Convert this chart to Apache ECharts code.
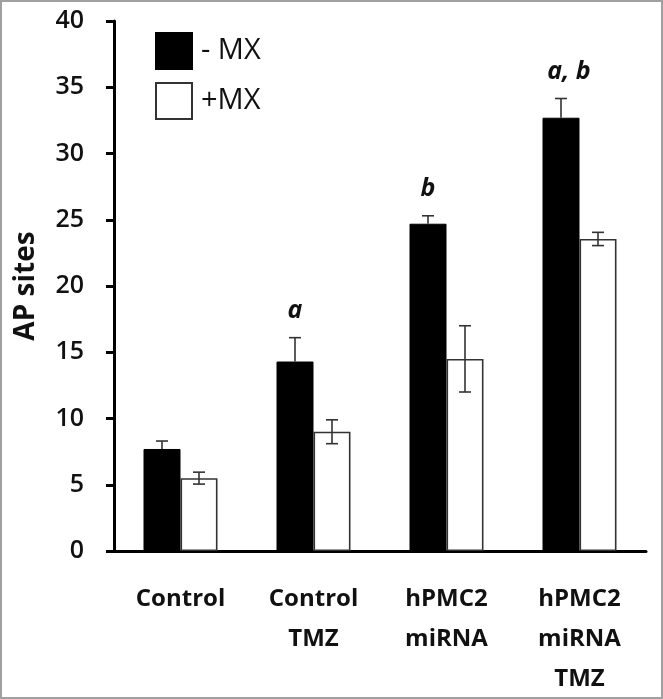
<!DOCTYPE html>
<html>
<head>
<meta charset="utf-8">
<script src="https://cdn.jsdelivr.net/npm/echarts@6/dist/echarts.min.js"></script>
<style>
html,body{margin:0;padding:0;background:#fff;}
#chart{width:663px;height:699px;}
</style>
</head>
<body>
<div id="chart"></div>
<script>
const categories = ['Control', 'Control\nTMZ', 'hPMC2\nmiRNA', 'hPMC2\nmiRNA\nTMZ'];
const minusMX = [7.7, 14.3, 24.7, 32.7];
const minusMXErr = [0.6, 1.8, 0.6, 1.45];
const plusMX = [5.5, 9.0, 14.5, 23.55];
const plusMXErr = [0.45, 0.9, 2.5, 0.5];
const sigLetters = ['', 'a', 'b', 'a, b'];
const yTicks = [0, 5, 10, 15, 20, 25, 30, 35, 40];

const FONT = '"Open Sans", "DejaVu Sans", sans-serif';
const BAR_W = 37;

function errRender(offset, letters, upperOnly) {
  return function (params, api) {
    const idx = api.value(0), mean = api.value(1), err = api.value(2);
    const top = api.coord([idx, mean + err]);
    const mid = api.coord([idx, mean]);
    const bot = api.coord([idx, mean - err]);
    const x = top[0] + offset;
    const style = { stroke: '#333', lineWidth: 1.6 };
    const children = [
      { type: 'line', shape: { x1: x, y1: top[1], x2: x, y2: upperOnly ? mid[1] : bot[1] }, style },
      { type: 'line', shape: { x1: x - 6, y1: top[1], x2: x + 6, y2: top[1] }, style }
    ];
    if (!upperOnly) {
      children.push({ type: 'line', shape: { x1: x - 6, y1: bot[1], x2: x + 6, y2: bot[1] }, style });
    }
    if (letters && letters[params.dataIndex]) {
      children.push({
        type: 'text',
        style: {
          text: letters[params.dataIndex],
          x: x + (letters[params.dataIndex].length > 1 ? 8 : 0),
          y: top[1] - 27,
          align: 'center', verticalAlign: 'middle',
          font: 'italic bold 25px ' + FONT,
          fill: '#111'
        }
      });
    }
    return { type: 'group', children };
  };
}

const chart = echarts.init(document.getElementById('chart'));
chart.setOption({
  backgroundColor: '#fff',
  animation: false,
  graphic: [{
    type: 'rect', shape: { x: 1, y: 1, width: 661, height: 697 },
    style: { fill: 'none', stroke: '#a0a0a0', lineWidth: 2 }, z: 100
  }],
  legend: {
    orient: 'vertical', left: 150, top: 27,
    itemWidth: 36, itemHeight: 36, itemGap: 12,
    icon: 'rect',
    data: ['- MX', '+MX'],
    textStyle: { fontFamily: FONT, fontSize: 29, color: '#111', padding: [0, 0, 0, 4] }
  },
  grid: { left: 114, right: 17, top: 21, bottom: 145 },
  xAxis: {
    type: 'category', data: categories,
    axisLine: { lineStyle: { color: '#000', width: 3 } },
    axisTick: { show: false },
    axisLabel: {
      interval: 0, margin: 28, fontFamily: FONT, fontSize: 24, fontWeight: 'bold',
      color: '#111', lineHeight: 40, align: 'center'
    }
  },
  yAxis: {
    type: 'value', min: 0, max: 40, interval: 5,
    name: 'AP sites', nameLocation: 'middle', nameGap: 74,
    nameTextStyle: { fontFamily: FONT, fontSize: 28, fontWeight: 'bold', color: '#111' },
    axisLine: { show: true, lineStyle: { color: '#000', width: 3 } },
    axisTick: { show: true, length: 8, lineStyle: { color: '#000', width: 3 } },
    splitLine: { show: false },
    axisLabel: {
      margin: 30, fontFamily: FONT, fontSize: 25, fontWeight: 600, color: '#111',
      formatter: v => (yTicks.includes(v) ? String(v) : '')
    }
  },
  series: [
    {
      name: '- MX', type: 'bar', data: minusMX, barWidth: BAR_W, barGap: '0%',
      itemStyle: { color: '#000', borderColor: '#000', borderWidth: 1 }
    },
    {
      name: '+MX', type: 'bar', data: plusMX, barWidth: BAR_W, barGap: '0%',
      itemStyle: { color: '#fff', borderColor: '#333', borderWidth: 1.6 }
    },
    {
      type: 'custom', name: 'errMinus', z: 5,
      data: minusMX.map((v, i) => [i, v, minusMXErr[i]]),
      encode: { x: 0, y: 1 },
      renderItem: errRender(-BAR_W / 2, sigLetters, true)
    },
    {
      type: 'custom', name: 'errPlus', z: 5,
      data: plusMX.map((v, i) => [i, v, plusMXErr[i]]),
      encode: { x: 0, y: 1 },
      renderItem: errRender(BAR_W / 2, null, false)
    }
  ]
});
</script>
</body>
</html>
